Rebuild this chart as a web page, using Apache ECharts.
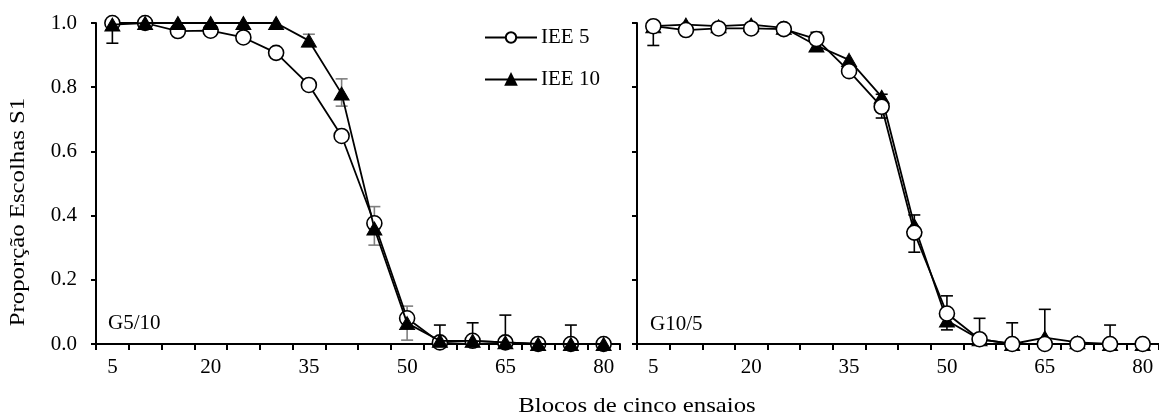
<!DOCTYPE html>
<html><head><meta charset="utf-8">
<script src="https://cdn.jsdelivr.net/npm/echarts@6/dist/echarts.min.js"></script>
<style>html,body{margin:0;padding:0;background:#fff}#c{width:1159px;height:418px}</style>
</head><body><div id="c"></div>
<script>
const categories = ['5','10','15','20','25','30','35','40','45','50','55','60','65','70','75','80'];
const yTicks = [0, 0.2, 0.4, 0.6, 0.8, 1.0];

// Panel G5/10
const g510_iee5  = [1.0, 1.0, 0.975, 0.976, 0.955, 0.907, 0.807, 0.648, 0.376, 0.08, 0.005, 0.01, 0.005, 0, 0, 0];
const g510_iee10 = [0.995, 1.0, 1.0, 1.0, 1.0, 1.0, 0.945, 0.78, 0.36, 0.065, 0.01, 0.01, 0.005, 0, 0, 0];
const g510_iee5_lo  = [0.937, null, null, null, null, null, null, null, null, null, null, null, null, null, null, null];
const g510_iee5_hi  = [null, null, null, null, null, null, null, null, null, null, 0.059, 0.066, 0.09, null, 0.059, null];
const g510_iee10_lo = [null, null, null, null, null, null, null, 0.741, 0.308, 0.012, null, null, null, null, null, null];
const g510_iee10_hi = [null, null, null, null, null, null, 0.965, 0.826, 0.428, 0.118, null, null, null, null, null, null];

// Panel G10/5
const g105_iee5  = [0.99, 0.978, 0.983, 0.983, 0.981, 0.95, 0.85, 0.739, 0.347, 0.095, 0.015, 0.0, 0.0, 0.0, 0.0, 0.0];
const g105_iee10 = [0.99, 0.995, 0.99, 0.995, 0.985, 0.93, 0.885, 0.77, 0.37, 0.073, 0.015, 0.0, 0.02, 0.005, 0.0, 0.0];
const g105_iee5_lo = [0.93, null, null, null, null, null, null, 0.704, 0.286, 0.044, null, null, null, null, null, null];
const g105_iee5_hi = [null, null, null, null, null, 0.971, null, 0.778, 0.402, 0.15, 0.08, 0.066, 0.108, null, 0.059, null];

const FONT = '"Liberation Serif", "Times New Roman", serif';

function errData(vals, lo, hi) {
  const out = [];
  for (let i = 0; i < vals.length; i++) {
    if (lo[i] != null || hi[i] != null) {
      out.push([i, vals[i], lo[i] != null ? lo[i] : vals[i], hi[i] != null ? hi[i] : vals[i]]);
    }
  }
  return out;
}
function errRender(color) {
  return function (params, api) {
    const i = api.value(0), v = api.value(1), lo = api.value(2), hi = api.value(3);
    const pLo = api.coord([i, lo]), pHi = api.coord([i, hi]);
    const w = 6, st = { stroke: color, lineWidth: 1.6 };
    const ch = [{ type: 'line', shape: { x1: pLo[0], y1: pLo[1], x2: pHi[0], y2: pHi[1] }, style: st }];
    if (lo < v) ch.push({ type: 'line', shape: { x1: pLo[0] - w, y1: pLo[1], x2: pLo[0] + w, y2: pLo[1] }, style: st });
    if (hi > v) ch.push({ type: 'line', shape: { x1: pHi[0] - w, y1: pHi[1], x2: pHi[0] + w, y2: pHi[1] }, style: st });
    return { type: 'group', children: ch };
  };
}

function xAxis(gi) {
  return {
    type: 'category', gridIndex: gi, data: categories, boundaryGap: true,
    axisLine: { lineStyle: { color: '#000', width: 2 } },
    axisTick: { show: true, interval: 0, length: 6, inside: false, lineStyle: { color: '#000', width: 2 } },
    axisLabel: { interval: 2, color: '#000', fontFamily: FONT, fontSize: 21, margin: 13 },
    splitLine: { show: false }
  };
}
function yAxis(gi, labels) {
  return {
    type: 'value', gridIndex: gi, min: 0, max: 1, interval: 0.2,
    axisLine: { show: true, lineStyle: { color: '#000', width: 2 } },
    axisTick: { show: true, length: 5, lineStyle: { color: '#000', width: 2 } },
    axisLabel: { show: labels, color: '#000', fontFamily: FONT, fontSize: 21, margin: 19,
      formatter: v => v.toFixed(1) },
    splitLine: { show: false }
  };
}

const circleStyle = { color: '#fff', borderColor: '#000', borderWidth: 1.6 };
const triStyle = { color: '#000', borderColor: '#000', borderWidth: 1 };
function lineSeries(name, data, gi, sym, z) {
  return {
    type: 'line', name, data, xAxisIndex: gi, yAxisIndex: gi,
    symbol: sym, symbolSize: sym === 'circle' ? 15 : [15, 13],
    showAllSymbol: true, clip: false, z,
    lineStyle: { color: '#000', width: 1.8 },
    itemStyle: sym === 'circle' ? circleStyle : triStyle,
    emphasis: { disabled: true }, animation: false
  };
}
function errSeries(data, gi, color) {
  return {
    type: 'custom', xAxisIndex: gi, yAxisIndex: gi, data, renderItem: errRender(color),
    z: 1, animation: false, silent: true
  };
}

const chart = echarts.init(document.getElementById('c'));
chart.setOption({
  animation: false,
  backgroundColor: '#fff',
  grid: [
    { left: 96, top: 23, width: 524, height: 321 },
    { left: 637, top: 23, width: 523, height: 321 }
  ],
  xAxis: [xAxis(0), xAxis(1)],
  yAxis: [yAxis(0, true), yAxis(1, false)],
  legend: {
    left: 479, top: 22, orient: 'vertical', itemWidth: 52, itemHeight: 13, itemGap: 21,
    data: ['IEE 5', 'IEE 10'],
    textStyle: { color: '#000', fontFamily: FONT, fontSize: 21, padding: [0, 0, 0, -1] }
  },
  graphic: [
    { type: 'text', x: 18, y: 212, rotation: Math.PI / 2, scaleX: 1.18,
      style: { text: 'Proporção Escolhas S1', font: '21px ' + FONT, fill: '#000', align: 'center', verticalAlign: 'middle' } },
    { type: 'text', x: 637, y: 406, scaleX: 1.18,
      style: { text: 'Blocos de cinco ensaios', font: '21px ' + FONT, fill: '#000', align: 'center', verticalAlign: 'middle' } },
    { type: 'text', x: 108, y: 323,
      style: { text: 'G5/10', font: '21px ' + FONT, fill: '#000', align: 'left', verticalAlign: 'middle' } },
    { type: 'text', x: 650, y: 324,
      style: { text: 'G10/5', font: '21px ' + FONT, fill: '#000', align: 'left', verticalAlign: 'middle' } }
  ],
  series: [
    errSeries(errData(g510_iee5, g510_iee5_lo, g510_iee5_hi), 0, '#000'),
    errSeries(errData(g510_iee10, g510_iee10_lo, g510_iee10_hi), 0, '#7f7f7f'),
    lineSeries('IEE 5', g510_iee5, 0, 'circle', 2),
    lineSeries('IEE 10', g510_iee10, 0, 'triangle', 3),
    errSeries(errData(g105_iee5, g105_iee5_lo, g105_iee5_hi), 1, '#000'),
    lineSeries('IEE 10', g105_iee10, 1, 'triangle', 2),
    lineSeries('IEE 5', g105_iee5, 1, 'circle', 3)
  ]
});
</script>
</body></html>
